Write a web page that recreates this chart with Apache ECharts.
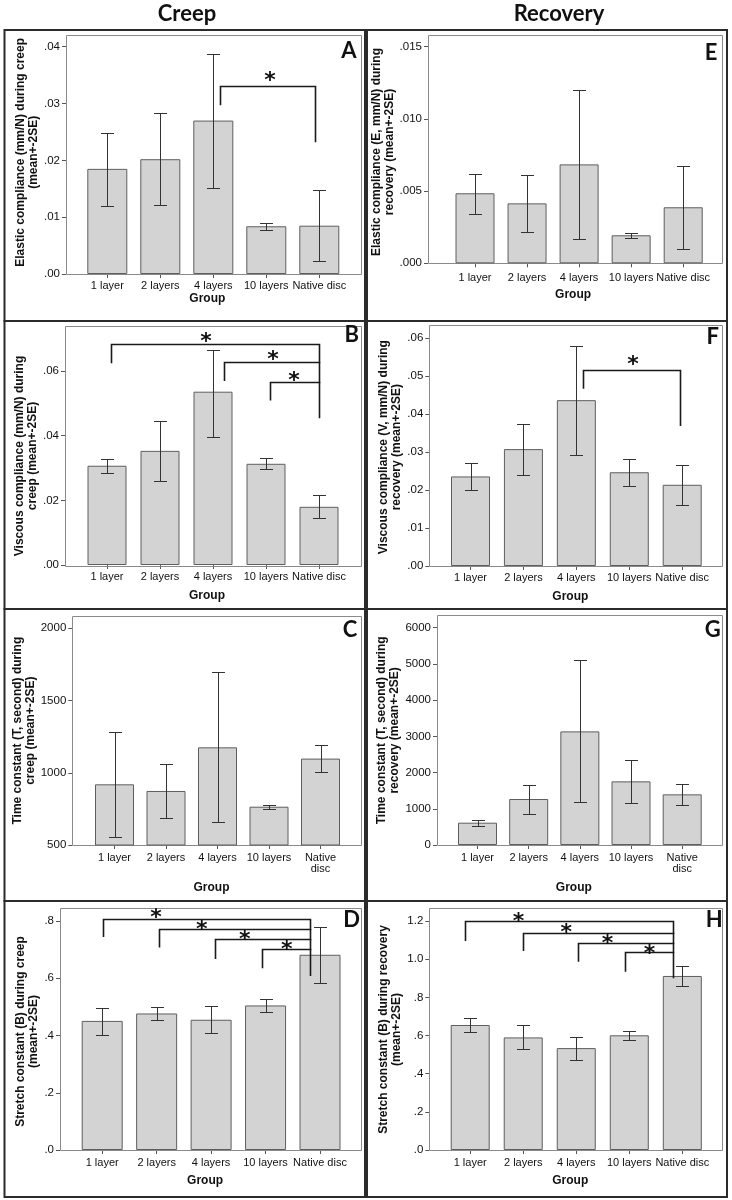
<!DOCTYPE html>
<html><head><meta charset="utf-8">
<script src="https://cdn.jsdelivr.net/npm/echarts@6/dist/echarts.min.js"></script>
<style>html,body{margin:0;padding:0;background:#fff}#c{width:732px;height:1200px}</style>
</head><body><div id="c"></div>
<script>
// ---------- DATA ----------
const categories = ['1 layer', '2 layers', '4 layers', '10 layers', 'Native disc'];
const categoriesWrapped = ['1 layer', '2 layers', '4 layers', '10 layers', 'Native\ndisc'];
const colTitles = ['Creep', 'Recovery'];
const panelLetters = ['A', 'B', 'C', 'D', 'E', 'F', 'G', 'H'];
const groupName = 'Group';

// A: Elastic compliance during creep
const aMean = [0.0185, 0.0202, 0.0270, 0.0084, 0.0085];
const aLow  = [0.0120, 0.0121, 0.0151, 0.0078, 0.0022];
const aHigh = [0.0249, 0.0283, 0.0388, 0.0089, 0.0147];
// B: Viscous compliance during creep
const bMean = [0.0307, 0.0353, 0.0536, 0.0313, 0.0180];
const bLow  = [0.0286, 0.0261, 0.0395, 0.0297, 0.0146];
const bHigh = [0.0328, 0.0444, 0.0665, 0.0330, 0.0215];
// C: Time constant during creep
const cMean = [920, 874, 1176, 765, 1098];
const cLow  = [553, 685, 657, 749, 1003];
const cHigh = [1284, 1063, 1695, 777, 1192];
// D: Stretch constant during creep
const dMean = [0.451, 0.477, 0.455, 0.505, 0.682];
const dLow  = [0.401, 0.453, 0.408, 0.482, 0.585];
const dHigh = [0.497, 0.501, 0.502, 0.528, 0.779];
// E: Elastic compliance during recovery
const eMean = [0.00485, 0.00415, 0.00685, 0.00194, 0.00388];
const eLow  = [0.00344, 0.00217, 0.00168, 0.00178, 0.00097];
const eHigh = [0.00618, 0.00609, 0.01200, 0.00212, 0.00674];
// F: Viscous compliance during recovery
const fMean = [0.0236, 0.0308, 0.0437, 0.0247, 0.0214];
const fLow  = [0.0201, 0.0239, 0.0292, 0.0212, 0.0160];
const fHigh = [0.0271, 0.0375, 0.0581, 0.0281, 0.0266];
// G: Time constant during recovery
const gMean = [616, 1270, 3137, 1757, 1398];
const gLow  = [534, 865, 1178, 1168, 1095];
const gHigh = [699, 1656, 5106, 2355, 1693];
// H: Stretch constant during recovery
const hMean = [0.655, 0.590, 0.534, 0.601, 0.912];
const hLow  = [0.620, 0.527, 0.473, 0.575, 0.858];
const hHigh = [0.690, 0.655, 0.594, 0.625, 0.966];

// Significance brackets: [leftX(cat), rightX(cat), lineY, leftEndY, rightEndY, starX(cat), starY]
const aBrackets = [[2.13, 3.92, 0.0331, 0.0297, 0.0232, 3.07, 0.0348]];
const bBrackets = [
  [0.08, 4.00, 0.0685, 0.0624, 0.0454, 1.87, 0.0706],
  [2.21, 4.00, 0.0628, 0.0569, 0.0628, 3.13, 0.0650],
  [3.08, 4.00, 0.0567, 0.0509, 0.0567, 3.53, 0.0585]
];
const dBrackets = [
  [0.01, 3.81, 0.808, 0.744, 0.608, 0.99, 0.827],
  [1.05, 3.81, 0.771, 0.707, 0.771, 1.83, 0.788],
  [2.07, 3.81, 0.737, 0.667, 0.737, 2.62, 0.751],
  [2.93, 3.81, 0.703, 0.635, 0.703, 3.39, 0.716]
];
const fBrackets = [[2.13, 3.95, 0.0517, 0.0467, 0.0369, 3.07, 0.0543]];
const hBrackets = [
  [-0.09, 3.82, 1.202, 1.095, 0.900, 0.91, 1.223],
  [0.99, 3.82, 1.139, 1.043, 1.139, 1.81, 1.162],
  [2.03, 3.82, 1.086, 0.987, 1.086, 2.59, 1.109],
  [2.91, 3.82, 1.036, 0.934, 1.036, 3.38, 1.057]
];

// Axis scales: [min, max, interval, decimals]
const aScale = [0, 0.04, 0.01, 2];
const bScale = [0, 0.06, 0.02, 2];
const cScale = [500, 2000, 500, 0];
const dScale = [0, 0.8, 0.2, 1];
const eScale = [0, 0.015, 0.005, 3];
const fScale = [0, 0.06, 0.01, 2];
const gScale = [0, 6000, 1000, 0];
const hScale = [0, 1.2, 0.2, 1];

const yNames = [
  'Elastic compliance (mm/N) during creep\n(mean+-2SE)',
  'Viscous compliance (mm/N) during\ncreep (mean+-2SE)',
  'Time constant (T, second) during\ncreep (mean+-2SE)',
  'Stretch constant (B) during creep\n(mean+-2SE)',
  'Elastic compliance (E, mm/N) during\nrecovery (mean+-2SE)',
  'Viscous compliance (V, mm/N) during\nrecovery (mean+-2SE)',
  'Time constant (T, second) during\nrecovery (mean+-2SE)',
  'Stretch constant (B) during recovery\n(mean+-2SE)'
];

// ---------- LAYOUT (pixels) ----------
const W = 732, H = 1200;
const layouts = [
  {frame:[66,35,361,274],      c0:107.3, c4:319.3, topY:46.7,  bw:40, nameRight:45,   shift:8,  lm:6.5, gg:15,   letter:[349,51]},
  {frame:[65,325.5,361,565],   c0:107,   c4:319,   topY:371,   bw:39, nameRight:45,   shift:12, lm:6.2, gg:25,   letter:[351.7,335]},
  {frame:[72.3,616,361,845],   c0:114.5, c4:320.5, topY:628.3, bw:39, nameRight:43,   shift:6,  lm:7.5, gg:37,   letter:[350,630]},
  {frame:[60,908,361,1150],    c0:102.2, c4:320,   topY:921,   bw:41, nameRight:41.5, shift:4,  lm:7.2, gg:25,   letter:[351.7,920]},
  {frame:[428,35,722,263.3],   c0:475,   c4:683.2, topY:46.7,  bw:39, nameRight:408,  shift:3,  lm:9.5, gg:25,   letter:[711,53]},
  {frame:[429.3,325,722,566],  c0:470.5, c4:682.2, topY:338.3, bw:39, nameRight:407.5,shift:5,  lm:6.8, gg:24.7, letter:[712.7,336.7]},
  {frame:[437,615,722,845],    c0:477.5, c4:682.2, topY:627.7, bw:39, nameRight:406,  shift:6,  lm:7.2, gg:36.7, letter:[712.7,630]},
  {frame:[429.3,907.7,722,1150],c0:470.2,c4:682.3, topY:921,   bw:39, nameRight:406,  shift:6,  lm:7.2, gg:25,   letter:[714.3,920]}
];
const boxRows = [30, 321, 609, 901, 1197];
const boxCols = [[4.5, 365], [367, 727]];

const panels = [
  {cats:categories,        mean:aMean, low:aLow, high:aHigh, br:aBrackets, sc:aScale},
  {cats:categories,        mean:bMean, low:bLow, high:bHigh, br:bBrackets, sc:bScale},
  {cats:categoriesWrapped, mean:cMean, low:cLow, high:cHigh, br:[],        sc:cScale},
  {cats:categories,        mean:dMean, low:dLow, high:dHigh, br:dBrackets, sc:dScale},
  {cats:categories,        mean:eMean, low:eLow, high:eHigh, br:[],        sc:eScale},
  {cats:categories,        mean:fMean, low:fLow, high:fHigh, br:fBrackets, sc:fScale},
  {cats:categoriesWrapped, mean:gMean, low:gLow, high:gHigh, br:[],        sc:gScale},
  {cats:categories,        mean:hMean, low:hLow, high:hHigh, br:hBrackets, sc:hScale}
];

const FONT = 'Liberation Sans';
const grids = [], xAxes = [], yAxes = [], series = [], graphics = [];
const crisp = v => Math.round(v) + 0.5;

panels.forEach((p, i) => {
  const L = layouts[i];
  const band = (L.c4 - L.c0) / 4;
  const gl = L.c0 - band / 2, gr = L.c4 + band / 2;
  grids.push({left: gl, right: W - gr, top: L.topY, bottom: H - L.frame[3], containLabel: false});
  xAxes.push({
    type: 'category', gridIndex: i, data: p.cats,
    axisLine: {show: false},
    axisTick: {show: true, alignWithLabel: true, length: 4, lineStyle: {color: '#555'}},
    axisLabel: {interval: 0, fontSize: 11, color: '#111', margin: L.lm, lineHeight: 11, fontFamily: FONT},
    name: groupName, nameLocation: 'middle', nameGap: L.gg,
    nameTextStyle: {fontSize: 12, fontWeight: 'bold', color: '#111', fontFamily: FONT, padding: [0, 12, 0, 0]}
  });
  const dec = p.sc[3];
  yAxes.push({
    type: 'value', gridIndex: i, min: p.sc[0], max: p.sc[1], interval: p.sc[2],
    offset: gl - L.frame[0],
    axisLine: {show: false},
    axisTick: {show: true, length: 4, lineStyle: {color: '#555'}},
    splitLine: {show: false},
    axisLabel: {fontSize: 11.5, color: '#111', margin: 6, fontFamily: FONT,
      formatter: v => { let s = (+v).toFixed(dec); if (s.startsWith('0.')) s = s.slice(1); return s; }},
    name: yNames[i], nameLocation: 'middle', nameGap: L.frame[0] - L.nameRight,
    nameTextStyle: {fontSize: 12, fontWeight: 'bold', color: '#111', fontFamily: FONT, lineHeight: 13,
      padding: [0, 0, 0, 2 * L.shift]}
  });
  series.push({
    type: 'bar', xAxisIndex: i, yAxisIndex: i, data: p.mean, barWidth: L.bw,
    itemStyle: {color: '#d3d3d3', borderColor: '#5e5e5e', borderWidth: 1},
    silent: true
  });
  series.push({
    type: 'custom', xAxisIndex: i, yAxisIndex: i, clip: false, z: 5,
    data: p.low.map((l, k) => [k, l, p.high[k]]),
    renderItem: (params, api) => {
      const k = api.value(0);
      const pl = api.coord([k, api.value(1)]), ph = api.coord([k, api.value(2)]);
      const x = crisp(pl[0]), yl = crisp(pl[1]), yh = crisp(ph[1]);
      const hw = 6.5, st = {stroke: '#333', lineWidth: 1};
      return {type: 'group', children: [
        {type: 'line', shape: {x1: x, y1: yh, x2: x, y2: yl}, style: st},
        {type: 'line', shape: {x1: x - hw, y1: yh, x2: x + hw, y2: yh}, style: st},
        {type: 'line', shape: {x1: x - hw, y1: yl, x2: x + hw, y2: yl}, style: st}
      ]};
    }
  });
  if (p.br.length) {
    const br = p.br;
    series.push({
      type: 'custom', xAxisIndex: i, yAxisIndex: i, clip: false, z: 6,
      data: br.map(b => [0, b[2]]),
      renderItem: (params, api) => {
        const b = br[params.dataIndex];
        const p0 = api.coord([0, b[2]]), p1 = api.coord([1, b[2]]);
        const bandW = p1[0] - p0[0];
        const xL = crisp(p0[0] + b[0] * bandW), xR = crisp(p0[0] + b[1] * bandW);
        const yLn = crisp(p0[1]);
        const yLE = api.coord([0, b[3]])[1], yRE = api.coord([0, b[4]])[1];
        const xs = p0[0] + b[5] * bandW, ys = api.coord([0, b[6]])[1];
        return {type: 'group', children: [
          {type: 'polyline', shape: {points: [[xL, yLE], [xL, yLn], [xR, yLn], [xR, yRE]]},
            style: {stroke: '#1a1a1a', lineWidth: 1.6, fill: null}},
          {type: 'text', x: xs, y: ys + 5.5,
            style: {text: '*', fontSize: 22, fontWeight: 'bold', fontFamily: 'DejaVu Sans', fill: '#111', align: 'center', verticalAlign: 'middle'}}
        ]};
      }
    });
  }
  // plot frame
  const f = L.frame;
  graphics.push({type: 'rect', z: 1, silent: true,
    shape: {x: crisp(f[0]), y: crisp(f[1]), width: Math.round(f[2] - f[0]), height: Math.round(f[3] - f[1])},
    style: {fill: null, stroke: '#8a8a8a', lineWidth: 1}});
  graphics.push({type: 'text', z: 10, x: L.letter[0], y: L.letter[1],
    style: {text: panelLetters[i], fontSize: 22, fontWeight: 'bold', fontFamily: 'Lato', fill: '#111', align: 'center', verticalAlign: 'middle'}});
});

// outer panel boxes
boxCols.forEach(c => {
  for (let r = 0; r < 4; r++) {
    graphics.push({type: 'rect', z: 1, silent: true,
      shape: {x: c[0], y: boxRows[r], width: c[1] - c[0], height: boxRows[r + 1] - boxRows[r]},
      style: {fill: null, stroke: '#2b2b2b', lineWidth: 2}});
  }
});
// column titles
graphics.push({type: 'text', x: 187, y: 14, style: {text: colTitles[0], fontSize: 22, fontWeight: 'bold', fontFamily: 'Lato', fill: '#111', align: 'center', verticalAlign: 'middle'}});
graphics.push({type: 'text', x: 559, y: 14, style: {text: colTitles[1], fontSize: 22, fontWeight: 'bold', fontFamily: 'Lato', fill: '#111', align: 'center', verticalAlign: 'middle'}});

const chart = echarts.init(document.getElementById('c'), null, {renderer: 'canvas'});
chart.setOption({
  animation: false,
  backgroundColor: '#fff',
  textStyle: {fontFamily: FONT},
  grid: grids, xAxis: xAxes, yAxis: yAxes, series: series, graphic: graphics
});
</script>
</body></html>
